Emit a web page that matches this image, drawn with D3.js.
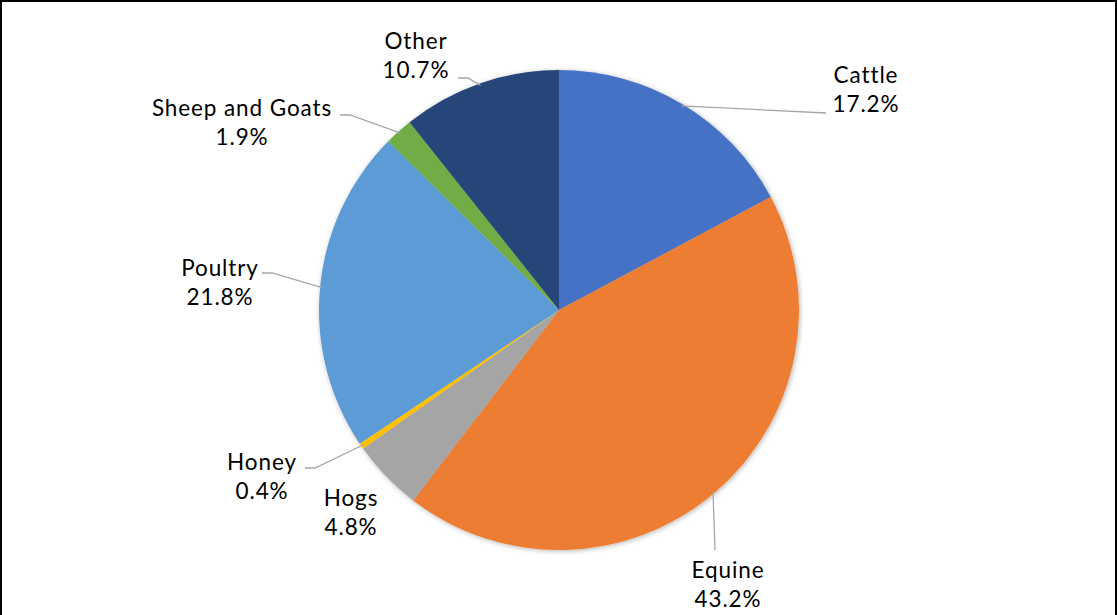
<!DOCTYPE html>
<meta charset="utf-8">
<style>
  body { margin: 0; background: #fff; }
  .lbl { font-family: 'Lato', 'Open Sans', sans-serif; font-size: 22.5px; letter-spacing: 0.9px; fill: #000; }
  .leader { fill: none; stroke: #a6a6a6; stroke-width: 1.3; }
</style>
<body>
<script src="https://d3js.org/d3.v7.min.js"></script>
<script>
var categories = ['Cattle', 'Equine', 'Hogs', 'Honey', 'Poultry', 'Sheep and Goats', 'Other'];
var shares = [17.2, 43.2, 4.8, 0.4, 21.8, 1.9, 10.7];
var colors = ['#4472c4', '#ed7d31', '#a5a5a5', '#ffc000', '#5b9bd5', '#70ad47', '#264478'];

// label placement (text centre x, first line baseline y) and leader elbow
var labelPos = {
  'Cattle':          {x: 866, y: 83,  line: [[826, 113]]},
  'Equine':          {x: 728, y: 578, line: [[715, 550]]},
  'Hogs':            {x: 351, y: 506, line: null},
  'Honey':           {x: 262, y: 470, line: [[315, 468], [305, 468]]},
  'Poultry':         {x: 220, y: 276, line: [[272, 273], [262, 273]]},
  'Sheep and Goats': {x: 242, y: 116, line: [[350, 115], [340, 115]]},
  'Other':           {x: 416, y: 49,  line: [[468, 78], [458, 78]]}
};

var width = 1118, height = 615;
var cx = 559, cy = 310, r = 240;

var svg = d3.select('body').append('svg')
    .attr('width', width)
    .attr('height', height);

svg.append('rect')
    .attr('x', 1).attr('y', 1)
    .attr('width', width - 3).attr('height', height + 5)
    .attr('fill', '#fff')
    .attr('stroke', '#000')
    .attr('stroke-width', 2);

var defs = svg.append('defs');
var f = defs.append('filter').attr('id', 'shadow')
    .attr('x', '-10%').attr('y', '-10%').attr('width', '120%').attr('height', '120%');
f.append('feDropShadow')
    .attr('dx', 1).attr('dy', 1).attr('stdDeviation', 2.5)
    .attr('flood-color', '#000').attr('flood-opacity', 0.3);

var data = categories.map(function (c, i) { return {name: c, value: shares[i], color: colors[i]}; });

var pie = d3.pie().sort(null).value(function (d) { return d.value; });
var arc = d3.arc().innerRadius(0).outerRadius(r);
var arcs = pie(data);

var g = svg.append('g').attr('transform', 'translate(' + cx + ',' + cy + ')');

g.append('g').attr('filter', 'url(#shadow)')
  .selectAll('path')
    .data(arcs)
  .enter().append('path')
    .attr('d', arc)
    .attr('fill', function (d) { return d.data.color; });

// leader lines: from the slice edge at mid angle to the label
arcs.forEach(function (a) {
  var p = labelPos[a.data.name];
  if (!p.line) return;
  var mid = (a.startAngle + a.endAngle) / 2;
  var start = [cx + Math.sin(mid) * (r - 2), cy - Math.cos(mid) * (r - 2)];
  var pts = [start].concat(p.line);
  svg.append('path')
      .attr('class', 'leader')
      .attr('d', d3.line()(pts));
});

var labels = svg.append('g').selectAll('text')
    .data(arcs)
  .enter().append('text')
    .attr('class', 'lbl')
    .attr('text-anchor', 'middle')
    .attr('x', function (d) { return labelPos[d.data.name].x; })
    .attr('y', function (d) { return labelPos[d.data.name].y; });

labels.append('tspan')
    .attr('x', function (d) { return labelPos[d.data.name].x; })
    .text(function (d) { return d.data.name; });
labels.append('tspan')
    .attr('x', function (d) { return labelPos[d.data.name].x; })
    .attr('dy', 29)
    .text(function (d) { return d3.format('.1f')(d.data.value) + '%'; });
</script>
</body>
